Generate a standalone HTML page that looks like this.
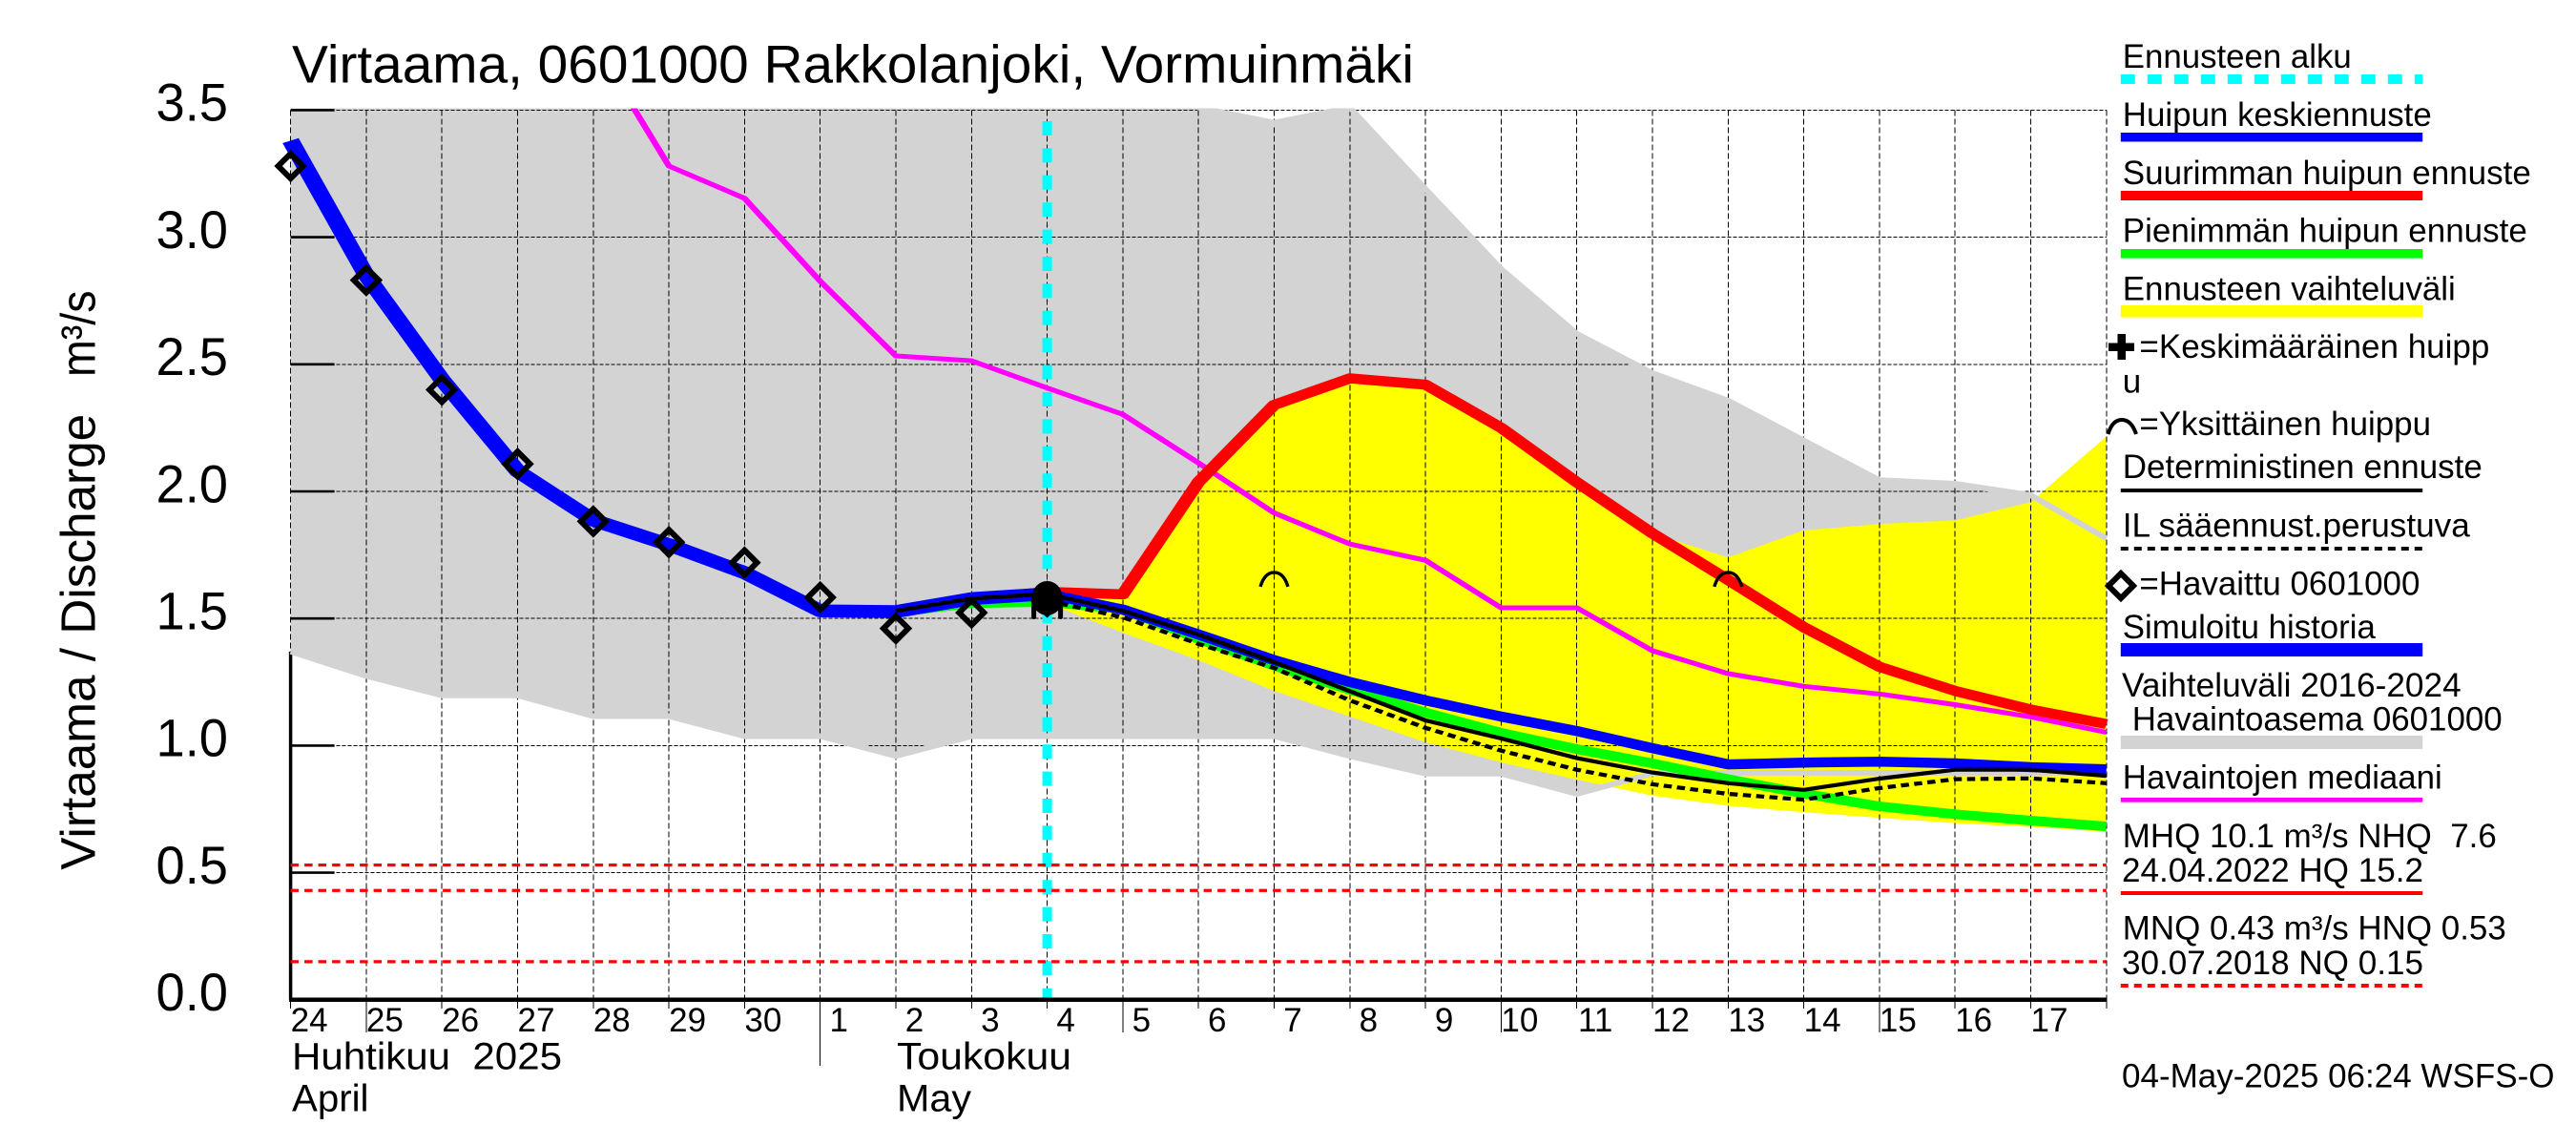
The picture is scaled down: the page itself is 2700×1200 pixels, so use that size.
<!DOCTYPE html>
<html lang="fi">
<head>
<meta charset="utf-8">
<title>Virtaama, 0601000 Rakkolanjoki, Vormuinmäki</title>
<style>
  html, body { margin: 0; padding: 0; background: #fff; }
  #chart { display: block; width: 2700px; height: 1200px; }
  text { font-family: "Liberation Sans", sans-serif; fill: #000; }
  .lg { font-size: 35px; }
  .dl { font-size: 35px; text-anchor: middle; }
  .ml { font-size: 40px; }
  .yl { font-size: 55.6px; }
</style>
</head>
<body>
<svg id="chart" xmlns="http://www.w3.org/2000/svg" width="2700" height="1200" viewBox="0 0 2700 1200">
  <defs>
    <clipPath id="plot-clip"><rect x="295" y="113.5" width="1914.5" height="940"></rect></clipPath>
  </defs>
  <rect x="0" y="0" width="2700" height="1200" fill="#fff"></rect>
  <g id="plot"></g>

  <text x="306" y="86.5" font-size="55.6" textLength="1176" lengthAdjust="spacingAndGlyphs">Virtaama, 0601000 Rakkolanjoki, Vormuinmäki</text>
  <text transform="translate(99.5,911.8) rotate(-90)" font-size="51" textLength="478" lengthAdjust="spacingAndGlyphs">Virtaama / Discharge</text>
  <text transform="translate(99.5,395) rotate(-90)" font-size="51" textLength="90.5" lengthAdjust="spacingAndGlyphs">m³/s</text>

  <text class="ml" x="306" y="1120.5" textLength="283" lengthAdjust="spacingAndGlyphs" xml:space="preserve">Huhtikuu  2025</text>
  <text class="ml" x="306" y="1164.5" textLength="80.5" lengthAdjust="spacingAndGlyphs">April</text>
  <text class="ml" x="940" y="1120.5" textLength="183" lengthAdjust="spacingAndGlyphs">Toukokuu</text>
  <text class="ml" x="940" y="1164.5" textLength="78" lengthAdjust="spacingAndGlyphs">May</text>

  <g id="legend">
    <g>
      <text class="lg" x="2224.8" y="70.8" textLength="240" lengthAdjust="spacingAndGlyphs">Ennusteen alku</text>
      <line x1="2222.8" y1="83" x2="2539.2" y2="83" stroke="#00ffff" stroke-width="10" stroke-dasharray="15 13"></line>
    </g>
    <g>
      <text class="lg" x="2224.8" y="132" textLength="324" lengthAdjust="spacingAndGlyphs">Huipun keskiennuste</text>
      <rect x="2222.8" y="139" width="316.4" height="9.5" fill="#0000ff"></rect>
    </g>
    <g>
      <text class="lg" x="2224.8" y="193" textLength="428" lengthAdjust="spacingAndGlyphs">Suurimman huipun ennuste</text>
      <rect x="2222.8" y="200" width="316.4" height="10" fill="#ff0000"></rect>
    </g>
    <g>
      <text class="lg" x="2224.8" y="253.7" textLength="424" lengthAdjust="spacingAndGlyphs">Pienimmän huipun ennuste</text>
      <rect x="2222.8" y="261" width="316.4" height="9.6" fill="#00ff00"></rect>
    </g>
    <g>
      <text class="lg" x="2224.8" y="314.6" textLength="349" lengthAdjust="spacingAndGlyphs">Ennusteen vaihteluväli</text>
      <rect x="2222.8" y="320" width="316.4" height="12.6" fill="#ffff00"></rect>
    </g>
    <g>
      <rect x="2210" y="359.5" width="27" height="8.5" fill="#000"></rect>
      <rect x="2219.5" y="350" width="8.5" height="27" fill="#000"></rect>
      <text class="lg" x="2242.4" y="375" textLength="367" lengthAdjust="spacingAndGlyphs">=Keskimääräinen huipp</text>
      <text class="lg" x="2224.8" y="411.4">u</text>
    </g>
    <g>
      <path d="M2209.5 455 Q2214 440 2224 440 Q2234 440 2239 455" fill="none" stroke="#000" stroke-width="4"></path>
      <text class="lg" x="2242.4" y="456" textLength="305.6" lengthAdjust="spacingAndGlyphs">=Yksittäinen huippu</text>
    </g>
    <g>
      <text class="lg" x="2224.8" y="501" textLength="377" lengthAdjust="spacingAndGlyphs">Deterministinen ennuste</text>
      <rect x="2222.8" y="512" width="316.4" height="4" fill="#000"></rect>
    </g>
    <g>
      <text class="lg" x="2224.8" y="562.6" textLength="364" lengthAdjust="spacingAndGlyphs">IL sääennust.perustuva</text>
      <line x1="2222.8" y1="575" x2="2539.2" y2="575" stroke="#000" stroke-width="4" stroke-dasharray="8 6"></line>
    </g>
    <g>
      <path d="M2223 601 L2236 614 L2223 627 L2210 614 Z" fill="none" stroke="#000" stroke-width="6"></path>
      <text class="lg" x="2242.4" y="623.7" textLength="294" lengthAdjust="spacingAndGlyphs">=Havaittu 0601000</text>
    </g>
    <g>
      <text class="lg" x="2224.8" y="669" textLength="265" lengthAdjust="spacingAndGlyphs">Simuloitu historia</text>
      <rect x="2222.8" y="674" width="316.4" height="14" fill="#0000ff"></rect>
    </g>
    <g>
      <text class="lg" x="2224" y="730" textLength="355.7" lengthAdjust="spacingAndGlyphs">Vaihteluväli 2016-2024</text>
      <text class="lg" x="2234.7" y="765.7" textLength="388" lengthAdjust="spacingAndGlyphs">Havaintoasema 0601000</text>
      <rect x="2222.8" y="771" width="316.4" height="14" fill="#d3d3d3"></rect>
    </g>
    <g>
      <text class="lg" x="2224.8" y="826.6" textLength="335" lengthAdjust="spacingAndGlyphs">Havaintojen mediaani</text>
      <rect x="2222.8" y="836" width="316.4" height="4.7" fill="#ff00ff"></rect>
    </g>
    <g>
      <text class="lg" x="2224.8" y="887.8" textLength="392" lengthAdjust="spacingAndGlyphs" xml:space="preserve">MHQ 10.1 m³/s NHQ  7.6</text>
      <text class="lg" x="2224" y="923.8" textLength="316" lengthAdjust="spacingAndGlyphs">24.04.2022 HQ 15.2</text>
      <rect x="2222.8" y="934" width="316.4" height="4" fill="#ff0000"></rect>
    </g>
    <g>
      <text class="lg" x="2224.8" y="984.6" textLength="402" lengthAdjust="spacingAndGlyphs">MNQ 0.43 m³/s HNQ 0.53</text>
      <text class="lg" x="2224" y="1021" textLength="316" lengthAdjust="spacingAndGlyphs">30.07.2018 NQ 0.15</text>
      <line x1="2222.8" y1="1033" x2="2539.2" y2="1033" stroke="#ff0000" stroke-width="4" stroke-dasharray="8 6"></line>
    </g>
  </g>
  <text class="lg" x="2224" y="1139.6" textLength="453.5" lengthAdjust="spacingAndGlyphs">04-May-2025 06:24 WSFS-O</text>
</svg>

<script>
// ---- chart data (day index 0 = 24 April 2025, one value per day) ----
const dayLabels = ['24','25','26','27','28','29','30','1','2','3','4','5','6','7','8','9','10','11','12','13','14','15','16','17'];
const longTickDays = [1, 11, 16, 21];
const monthTickDay = 7;
const yTicks = [0.0, 0.5, 1.0, 1.5, 2.0, 2.5, 3.0, 3.5];
const yTickLabels = ['0.0', '0.5', '1.0', '1.5', '2.0', '2.5', '3.0', '3.5'];
const forecastStartDay = 10;

const rangeTop = [3.9,3.9,3.9,3.9,3.9,3.9,3.9,3.9,3.9,3.9,3.9,3.9,3.51,3.45,3.51,3.19,2.875,2.62,2.465,2.357,2.2,2.044,2.03,1.985,1.815];
const rangeBottom = [1.37,1.274,1.198,1.198,1.116,1.116,1.037,1.037,0.959,1.037,1.037,1.037,1.037,1.037,0.959,0.89,0.89,0.81,0.89,0.893,0.893,0.893,0.893,0.893,0.893];

const forecastTop = [null,null,null,null,null,null,null,null,null,null,1.6,1.595,2.037,2.34,2.445,2.42,2.25,2.036,1.835,1.74,1.847,1.872,1.886,1.958,2.216];
const forecastBottom = [null,null,null,null,null,null,null,null,null,null,1.56,1.444,1.336,1.215,1.114,1.013,0.934,0.866,0.803,0.763,0.738,0.716,0.695,0.68,0.661];

const observedMedian = [null,null,null,null,3.77,3.28,3.153,2.827,2.533,2.514,2.407,2.303,2.112,1.915,1.793,1.729,1.542,1.542,1.373,1.283,1.233,1.203,1.161,1.113,1.052];
const highestPeak = [null,null,null,null,null,null,null,null,null,1.575,1.605,1.595,2.037,2.34,2.445,2.42,2.25,2.036,1.835,1.652,1.466,1.31,1.215,1.142,1.085];
const lowestPeak = [null,null,null,null,null,null,null,null,1.525,1.56,1.565,1.537,1.42,1.315,1.22,1.13,1.05,0.986,0.93,0.868,0.811,0.761,0.73,0.705,0.682];
const simulatedHistory = [3.38,2.85,2.44,2.08,1.887,1.79,1.68,1.53,1.527,1.578,1.597];
const meanPeak = [null,null,null,null,null,null,null,null,1.527,1.578,1.597,1.535,1.437,1.336,1.25,1.178,1.114,1.057,0.99,0.926,0.933,0.937,0.93,0.915,0.907];
const deterministic = [null,null,null,null,null,null,null,null,1.53,1.578,1.597,1.53,1.437,1.329,1.214,1.099,1.028,0.951,0.894,0.852,0.826,0.87,0.905,0.905,0.881];
const weatherBased = [null,null,null,null,null,null,null,null,null,null,1.57,1.505,1.4,1.305,1.178,1.07,0.98,0.905,0.848,0.81,0.787,0.833,0.868,0.871,0.852];
const observed = [3.28,2.831,2.40,2.108,1.882,1.80,1.72,1.583,1.461,1.523];
const observedNowCluster = [1.585,1.575,1.567];
const singlePeakDays = [13, 19];
const singlePeakValues = [1.655, 1.655];
const flowLevels = [0.53, 0.43, 0.15];

// ---- axis functions ----
function xScale(day) { return 304.6 + 79.3 * day; }
function yScale(value) { return 1047.8 - 266.4 * value; }
const lastDay = 24;
// the original plotter's pen is wider horizontally than vertically
const PEN_X = 1.35;

const SVGNS = 'http://www.w3.org/2000/svg';
const plot = document.getElementById('plot');
function add(parent, tag, attrs) {
  const n = document.createElementNS(SVGNS, tag);
  for (const k in attrs) n.setAttribute(k, attrs[k]);
  parent.appendChild(n);
  return n;
}
function pts(values) {
  const out = [];
  values.forEach(function (v, i) { if (v !== null) out.push(xScale(i).toFixed(1) + ',' + yScale(v).toFixed(1)); });
  return out;
}
function penPts(values) {
  const out = [];
  values.forEach(function (v, i) { if (v !== null) out.push((xScale(i) / PEN_X).toFixed(2) + ',' + yScale(v).toFixed(1)); });
  return out.join(' ');
}
let el;

// left axis below the grey band
el = add(plot, 'line', { x1: 304.6, x2: 304.6, y1: yScale(rangeBottom[0]), y2: yScale(0), stroke: '#000', 'stroke-width': 3.5 });



const fillLayer = add(plot, 'g', { 'clip-path': 'url(#plot-clip)' });



// historical range fill
el = add(fillLayer, 'polygon', { points: pts(rangeTop).concat(pts(rangeBottom).reverse()).join(' '), fill: '#d3d3d3' });



// forecast range fill
el = add(fillLayer, 'polygon', { points: pts(forecastTop).concat(pts(forecastBottom).reverse()).join(' '), fill: '#ffff00' });



// grid: vertical
for (let d = 0; d <= lastDay; d++) {
  el = add(plot, 'line', { x1: xScale(d), x2: xScale(d), y1: yScale(3.5), y2: yScale(0), stroke: '#000', 'stroke-width': 1, 'stroke-dasharray': '6 3', 'shape-rendering': 'crispEdges' });
  
  
}
// grid: horizontal
yTicks.forEach(function (v) {
  if (v === 0) return;
  el = add(plot, 'line', { x1: xScale(0), x2: xScale(lastDay), y1: yScale(v), y2: yScale(v), stroke: '#000', 'stroke-width': 1, 'stroke-dasharray': '4 2', 'shape-rendering': 'crispEdges' });
  
  
});

const lineClip = add(plot, 'g', { 'clip-path': 'url(#plot-clip)' });


const cyanLayer = add(lineClip, 'g', {});


const penLayer = add(lineClip, 'g', { transform: 'scale(' + PEN_X + ' 1)' });



// grey range outline covers grid and yellow
el = add(cyanLayer, 'polyline', { points: pts(rangeTop).join(' '), fill: 'none', stroke: '#d3d3d3', 'stroke-width': 6 });


el = add(cyanLayer, 'polyline', { points: pts(rangeBottom).join(' '), fill: 'none', stroke: '#d3d3d3', 'stroke-width': 6 });



// y ticks + labels
yTicks.forEach(function (v, i) {
  el = add(plot, 'line', { x1: xScale(0), x2: xScale(0) + 46, y1: yScale(v), y2: yScale(v), stroke: '#000', 'stroke-width': 2.6 });
  
  
  el = add(plot, 'text', { x: 163.5, y: yScale(v) + 11.3, class: 'yl', textLength: 75.5, lengthAdjust: 'spacingAndGlyphs' });
  el.textContent = yTickLabels[i];
  
  
});

// x ticks + labels
for (let d = 0; d <= lastDay; d++) {
  let bottom = 1057;
  if (longTickDays.indexOf(d) >= 0) bottom = 1082;
  if (d === monthTickDay) bottom = 1117;
  el = add(plot, 'line', { x1: xScale(d), x2: xScale(d), y1: yScale(0), y2: bottom, stroke: '#000', 'stroke-width': 1, 'shape-rendering': 'crispEdges' });
  
  
}
dayLabels.forEach(function (label, d) {
  el = add(plot, 'text', { x: xScale(d) + 19.5, y: 1081, class: 'dl' });
  el.textContent = label;
  
  
});

// forecast start
el = add(cyanLayer, 'line', { x1: xScale(forecastStartDay), x2: xScale(forecastStartDay), y1: 127, y2: yScale(0), stroke: '#00ffff', 'stroke-width': 10, 'stroke-dasharray': '15 13.4' });



// flow reference levels
flowLevels.forEach(function (v) {
  el = add(cyanLayer, 'line', { x1: xScale(0), x2: xScale(lastDay), y1: yScale(v), y2: yScale(v), stroke: '#ff0000', 'stroke-width': 3.2, 'stroke-dasharray': '8.5 6' });
  
  
});

// bottom axis
el = add(plot, 'line', { x1: xScale(0) - 1.5, x2: xScale(lastDay), y1: yScale(0), y2: yScale(0), stroke: '#000', 'stroke-width': 4.5 });



// series lines (drawn in pen space so the stroke keeps its wide horizontal footprint)
el = add(penLayer, 'polyline', { points: penPts(observedMedian), fill: 'none', stroke: '#ff00ff', 'stroke-width': 5, 'stroke-linejoin': 'round' });


el = add(penLayer, 'polyline', { points: penPts(highestPeak), fill: 'none', stroke: '#ff0000', 'stroke-width': 10.5, 'stroke-linejoin': 'round' });


el = add(penLayer, 'polyline', { points: penPts(lowestPeak), fill: 'none', stroke: '#00ff00', 'stroke-width': 10, 'stroke-linejoin': 'round' });


el = add(penLayer, 'polyline', { points: penPts(simulatedHistory), fill: 'none', stroke: '#0000ff', 'stroke-width': 13.5, 'stroke-linejoin': 'round' });


el = add(penLayer, 'polyline', { points: penPts(meanPeak), fill: 'none', stroke: '#0000ff', 'stroke-width': 10.5, 'stroke-linejoin': 'round' });


el = add(penLayer, 'polyline', { points: penPts(deterministic), fill: 'none', stroke: '#000', 'stroke-width': 4.2, 'stroke-linejoin': 'round' });


el = add(penLayer, 'polyline', { points: penPts(weatherBased), fill: 'none', stroke: '#000', 'stroke-width': 4.2, 'stroke-dasharray': (8.5 / PEN_X) + ' ' + (5.5 / PEN_X) });



// single peak arches
singlePeakDays.forEach(function (d, i) {
  const cx = xScale(d), cy = yScale(singlePeakValues[i]);
  el = add(plot, 'path', { d: 'M' + (cx - 14.5) + ' ' + (cy + 8) + ' Q' + (cx - 10) + ' ' + (cy - 7) + ' ' + cx + ' ' + (cy - 7) + ' Q' + (cx + 10) + ' ' + (cy - 7) + ' ' + (cx + 14.5) + ' ' + (cy + 8), fill: 'none', stroke: '#000', 'stroke-width': 3.4 });
  
  
});

// observed diamonds
function diamondPath(cx, cy) {
  return 'M' + cx + ' ' + (cy - 13) + ' L' + (cx + 13) + ' ' + cy + ' L' + cx + ' ' + (cy + 13) + ' L' + (cx - 13) + ' ' + cy + ' Z';
}
observed.forEach(function (v, d) {
  el = add(plot, 'path', { d: diamondPath(xScale(d), yScale(v)), fill: 'none', stroke: '#000', 'stroke-width': 6 });
  
  
});

// overlapping markers at forecast start
observedNowCluster.forEach(function (v) {
  const cx = xScale(forecastStartDay), cy = yScale(v);
  el = add(plot, 'path', { d: diamondPath(cx, cy), fill: '#000', stroke: '#000', 'stroke-width': 6 });
  
  
  el = add(plot, 'circle', { cx: cx, cy: cy - 1, r: 15.5, fill: '#000' });
  
  
});
[-14, 14].forEach(function (dx) {
  const cx = xScale(forecastStartDay) + dx, cy = yScale(observedNowCluster[0]);
  el = add(plot, 'line', { x1: cx, x2: cx, y1: cy + 2, y2: cy + 21, stroke: '#000', 'stroke-width': 5, 'stroke-linecap': 'round' });
  
  
});
</script>
</body>
</html>
